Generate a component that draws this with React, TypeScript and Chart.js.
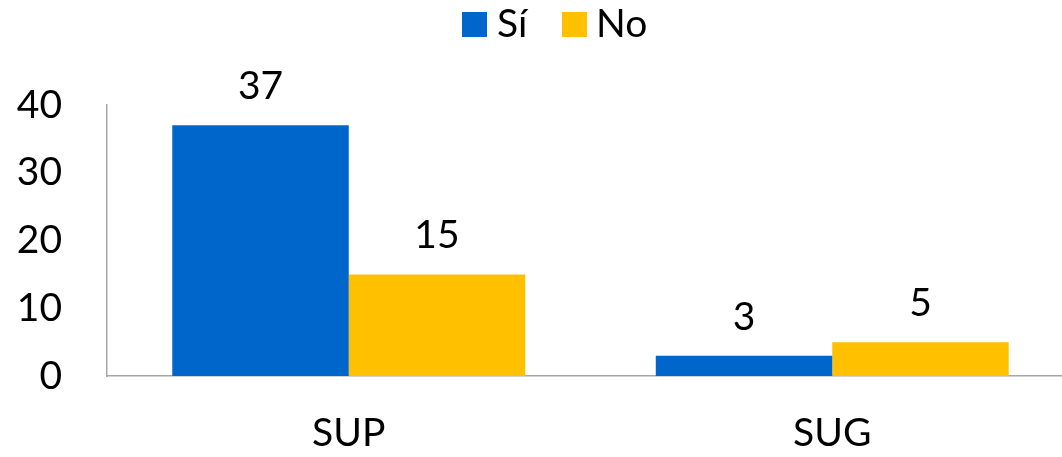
import React, { useEffect, useRef } from "react";
import { Chart, registerables } from "chart.js";

Chart.register(...registerables);

const categories = ["SUP", "SUG"];
const seriesNames = ["Sí", "No"];
const siValues = [37, 3];
const noValues = [15, 5];
const yTicks = [0, 10, 20, 30, 40];

const BLUE = "#0066CC";
const YELLOW = "#FFC000";
const FONT = "Lato, 'Open Sans', sans-serif";

const overlayPlugin = {
  id: "overlay",
  afterDraw(chart: any) {
    const ctx = chart.ctx;
    ctx.save();
    // data labels
    ctx.font = `39px ${FONT}`;
    ctx.fillStyle = "#000";
    ctx.textAlign = "center";
    ctx.textBaseline = "alphabetic";
    chart.data.datasets.forEach((ds: any, di: number) => {
      const meta = chart.getDatasetMeta(di);
      meta.data.forEach((el: any, i: number) => {
        ctx.fillText(String(ds.data[i]), el.x, el.y - 26);
      });
    });
    // legend
    const items = [
      { x: 462, color: BLUE, label: seriesNames[0], tx: 497 },
      { x: 562, color: YELLOW, label: seriesNames[1], tx: 596 },
    ];
    ctx.textAlign = "left";
    items.forEach((it) => {
      ctx.fillStyle = it.color;
      ctx.fillRect(it.x, 12, 25, 25);
      ctx.fillStyle = "#000";
      ctx.fillText(it.label, it.tx, 37);
    });
    ctx.restore();
  },
};

export default function App() {
  const ref = useRef<HTMLCanvasElement | null>(null);
  useEffect(() => {
    if (!ref.current) return;
    const chart = new Chart(ref.current, {
      type: "bar",
      data: {
        labels: categories,
        datasets: [
          {
            label: seriesNames[0],
            data: siValues,
            backgroundColor: BLUE,
            categoryPercentage: 0.73,
            barPercentage: 1.0,
          },
          {
            label: seriesNames[1],
            data: noValues,
            backgroundColor: YELLOW,
            categoryPercentage: 0.73,
            barPercentage: 1.0,
          },
        ],
      },
      options: {
        responsive: false,
        animation: false,
        events: [],
        layout: { padding: { top: 105, bottom: 0, left: 0, right: 0 } },
        plugins: { legend: { display: false }, tooltip: { enabled: false } },
        scales: {
          x: {
            afterFit: (scale: any) => {
              scale.height = 81;
            },
            grid: { display: false, drawTicks: false },
            border: { display: true, color: "#A6A6A6", width: 1.5 },
            ticks: {
              color: "#000",
              font: { family: FONT, size: 39 },
              padding: 34,
            },
          },
          y: {
            min: 0,
            max: 40,
            afterBuildTicks: (scale: any) => {
              scale.ticks = yTicks.map((v) => ({ value: v }));
            },
            afterFit: (scale: any) => {
              scale.width = 107;
            },
            grid: { display: false, drawTicks: false },
            border: { display: true, color: "#A6A6A6", width: 1.5 },
            ticks: {
              color: "#000",
              font: { family: FONT, size: 39 },
              padding: 45,
            },
          },
        },
      },
      plugins: [overlayPlugin],
    });
    return () => chart.destroy();
  }, []);
  return (
    <div
      style={{
        position: "absolute",
        left: 0,
        top: 0,
        width: 1062,
        height: 457,
        overflow: "hidden",
        background: "#fff",
      }}
    >
      <canvas ref={ref} width={1074} height={457} style={{ display: "block" }} />
    </div>
  );
}
